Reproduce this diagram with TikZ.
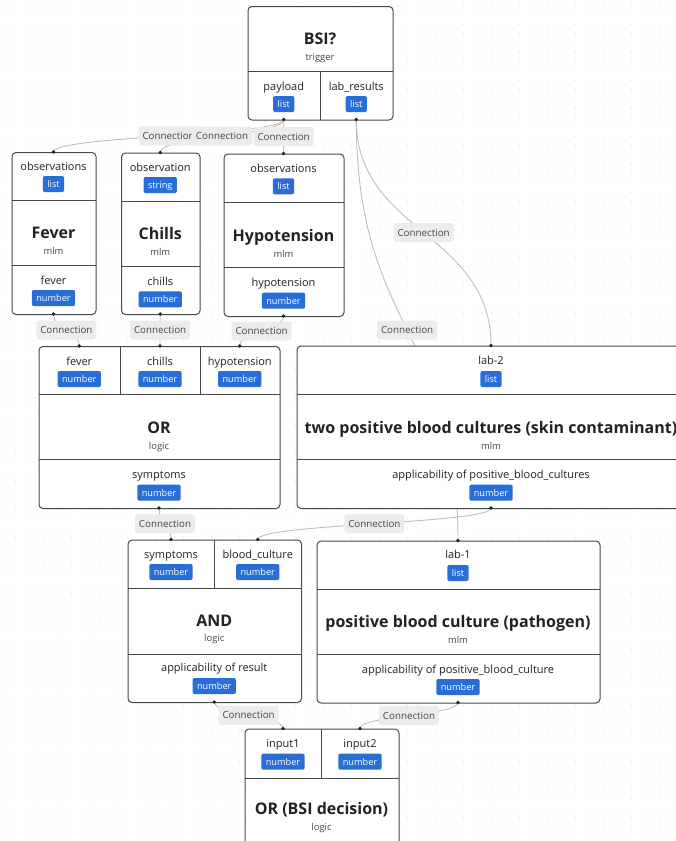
\documentclass[tikz,border=0pt]{standalone}
\usepackage{fontspec}
\setmainfont{Open Sans}
\usetikzlibrary{positioning, calc}
\definecolor{edge}{RGB}{72, 72, 72}
\definecolor{wire}{RGB}{190, 190, 190}
\definecolor{tag}{RGB}{40, 110, 214}
\definecolor{chip}{RGB}{236, 236, 236}
\definecolor{ink}{RGB}{34, 34, 34}
\definecolor{soft}{RGB}{70, 70, 70}
\definecolor{dots}{RGB}{212, 212, 212}
\pgfdeclarelayer{bg}
\pgfdeclarelayer{wires}
\pgfsetlayers{bg,wires,main}

\begin{document}
\begin{tikzpicture}[
    x=1pt, y=-1pt,
    box_style/.style={
        draw=edge,
        fill=white,
        line width=1pt,
        rounded corners=4pt,
        inner sep=0pt,
        anchor=north west
    },
    div_style/.style={draw=edge, line width=0.9pt},
    title_style/.style={text=ink, font=\fontsize{16}{18}\selectfont\bfseries, inner sep=0pt, text height=11.5pt, text depth=0pt},
    sub_style/.style={text=soft, font=\fontsize{9.4}{10}\selectfont, inner sep=0pt, text height=6.5pt, text depth=0pt},
    port_style/.style={text=ink, font=\fontsize{11}{12}\selectfont, inner sep=0pt, text height=8pt, text depth=2.5pt},
    type_style/.style={
        fill=tag,
        text=white,
        font=\fontsize{9.2}{10}\selectfont,
        rounded corners=2pt,
        inner xsep=4.5pt,
        inner ysep=0pt,
        minimum height=16pt,
        text height=6.6pt,
        text depth=0pt
    },
    conn_style/.style={
        fill=chip,
        text=soft,
        font=\fontsize{9.8}{10}\selectfont,
        rounded corners=3pt,
        inner xsep=4pt,
        inner ysep=0pt,
        minimum height=19pt,
        text height=7pt,
        text depth=0pt
    },
    wire_style/.style={
        draw=wire,
        line width=0.9pt,
        to path={.. controls ($(\tikztostart)!0.5!(\tikztostart |- \tikztotarget)$)
            and ($(\tikztotarget)!0.5!(\tikztotarget |- \tikztostart)$) .. (\tikztotarget)}
    },
    grid_style/.style={draw=dots, line width=1pt, line cap=round, dash pattern=on 0pt off 9.33pt}
]

\useasboundingbox (0,0) rectangle (676,841);

\begin{pgfonlayer}{bg}
\fill[white] (0,0) rectangle (676,841);
\foreach \gy in {5.67, 15, ..., 841}
    \draw[grid_style] (6.4,\gy) -- (676,\gy);
\end{pgfonlayer}

% trigger
\node[box_style, minimum width=145pt, minimum height=113.5pt] (bsi) at (247.5,6) {};
\draw[div_style] (247.5,71) -- (392.5,71);
\draw[div_style] (320,71) -- (320,119.5);
\node[title_style] (bsi-t) at (320,39) {BSI?};
\node[sub_style] (bsi-s) at (320,57) {trigger};
\node[port_style] (bsi-p1) at (283.75,87.7) {payload};
\node[type_style] (bsi-b1) at (283.75,104) {list};
\node[port_style] (bsi-p2) at (356.25,87.7) {lab\_results};
\node[type_style] (bsi-b2) at (356.25,104) {list};
\coordinate (bsi-pay) at (283.75,119.5);
\coordinate (bsi-lab) at (356.25,119.5);

% mlm: fever
\node[box_style, minimum width=84pt, minimum height=162pt] (fev) at (11.5,152) {};
\draw[div_style] (11.5,200) -- (95.5,200);
\draw[div_style] (11.5,265.5) -- (95.5,265.5);
\node[port_style] (fev-p1) at (53.5,167.7) {observations};
\node[type_style] (fev-b1) at (53.5,184) {list};
\node[title_style] (fev-t) at (53.5,233) {Fever};
\node[sub_style] (fev-s) at (53.5,251) {mlm};
\node[port_style] (fev-p2) at (53.5,282) {fever};
\node[type_style] (fev-b2) at (53.5,298) {number};
\coordinate (fev-in) at (53.5,152);
\coordinate (fev-out) at (53.5,314);

% mlm: chills
\node[box_style, minimum width=78.5pt, minimum height=161.5pt] (chi) at (121,152.5) {};
\draw[div_style] (121,201) -- (199.5,201);
\draw[div_style] (121,266) -- (199.5,266);
\node[port_style] (chi-p1) at (160.25,168.3) {observation};
\node[type_style] (chi-b1) at (160.25,185) {string};
\node[title_style] (chi-t) at (160.25,234) {Chills};
\node[sub_style] (chi-s) at (160.25,252.7) {mlm};
\node[port_style] (chi-p2) at (160.25,282.7) {chills};
\node[type_style] (chi-b2) at (160.25,299.3) {number};
\coordinate (chi-in) at (160.25,152.5);
\coordinate (chi-out) at (160.25,314);

% mlm: hypotension
\node[box_style, minimum width=120pt, minimum height=162.5pt] (hyp) at (223.5,153.5) {};
\draw[div_style] (223.5,202) -- (343.5,202);
\draw[div_style] (223.5,267) -- (343.5,267);
\node[port_style] (hyp-p1) at (283.5,170) {observations};
\node[type_style] (hyp-b1) at (283.5,186.3) {list};
\node[title_style] (hyp-t) at (283.5,235.7) {Hypotension};
\node[sub_style] (hyp-s) at (283.5,254) {mlm};
\node[port_style] (hyp-p2) at (283.5,284) {hypotension};
\node[type_style] (hyp-b2) at (283.5,300.7) {number};
\coordinate (hyp-in) at (283.5,153.5);
\coordinate (hyp-out) at (283.5,316);

% logic: OR
\node[box_style, minimum width=241pt, minimum height=162pt] (or) at (38.5,346) {};
\draw[div_style] (38.5,394) -- (279.5,394);
\draw[div_style] (38.5,459.5) -- (279.5,459.5);
\draw[div_style] (120,346) -- (120,394);
\draw[div_style] (200,346) -- (200,394);
\node[port_style] (or-p1) at (79.25,362.3) {fever};
\node[type_style] (or-b1) at (79.25,379) {number};
\node[port_style] (or-p2) at (160,362.3) {chills};
\node[type_style] (or-b2) at (160,379) {number};
\node[port_style] (or-p3) at (239.75,362.3) {hypotension};
\node[type_style] (or-b3) at (239.75,379) {number};
\node[title_style] (or-t) at (159,427.3) {OR};
\node[sub_style] (or-s) at (159,446) {logic};
\node[port_style] (or-p4) at (159,476) {symptoms};
\node[type_style] (or-b4) at (159,492.7) {number};
\coordinate (or-fev) at (79.25,346);
\coordinate (or-chi) at (160,346);
\coordinate (or-hyp) at (239.75,346);
\coordinate (or-out) at (159,508);

% mlm: two positive blood cultures
\node[box_style, minimum width=389pt, minimum height=162.5pt] (lab2) at (296.5,345.5) {};
\draw[div_style] (296.5,394) -- (685.5,394);
\draw[div_style] (296.5,459.5) -- (685.5,459.5);
\node[port_style] (lab2-p1) at (491,361.7) {lab-2};
\node[type_style] (lab2-b1) at (491,379) {list};
\node[title_style] (lab2-t) at (491,427.3) {two positive blood cultures (skin contaminant)};
\node[sub_style] (lab2-s) at (491,446) {mlm};
\node[port_style] (lab2-p2) at (491,475.7) {applicability of positive\_blood\_cultures};
\node[type_style] (lab2-b2) at (491,492.7) {number};
\coordinate (lab2-in) at (491,345.5);
\coordinate (lab2-out) at (491,508);

% logic: AND
\node[box_style, minimum width=173.5pt, minimum height=162.5pt] (and) at (127.5,539.5) {};
\draw[div_style] (127.5,588) -- (301,588);
\draw[div_style] (127.5,654) -- (301,654);
\draw[div_style] (214.5,539.5) -- (214.5,588);
\node[port_style] (and-p1) at (171,555.3) {symptoms};
\node[type_style] (and-b1) at (171,572) {number};
\node[port_style] (and-p2) at (257.75,555.3) {blood\_culture};
\node[type_style] (and-b2) at (257.75,572) {number};
\node[title_style] (and-t) at (214.25,620.7) {AND};
\node[sub_style] (and-s) at (214.25,638.7) {logic};
\node[port_style] (and-p3) at (214.25,669) {applicability of result};
\node[type_style] (and-b3) at (214.25,686) {number};
\coordinate (and-sym) at (171,539.5);
\coordinate (and-bc) at (257.75,539.5);
\coordinate (and-out) at (214.25,702);

% mlm: positive blood culture
\node[box_style, minimum width=283pt, minimum height=162pt] (lab1) at (316.5,540.5) {};
\draw[div_style] (316.5,589) -- (599.5,589);
\draw[div_style] (316.5,654) -- (599.5,654);
\node[port_style] (lab1-p1) at (458,556) {lab-1};
\node[type_style] (lab1-b1) at (458,573) {list};
\node[title_style] (lab1-t) at (458,622) {positive blood culture (pathogen)};
\node[sub_style] (lab1-s) at (458,640) {mlm};
\node[port_style] (lab1-p2) at (458,670.3) {applicability of positive\_blood\_culture};
\node[type_style] (lab1-b2) at (458,687) {number};
\coordinate (lab1-in) at (458,540.5);
\coordinate (lab1-out) at (458,702.5);

% logic: OR (BSI decision)
\node[box_style, minimum width=154pt, minimum height=130pt] (dec) at (244.5,728.5) {};
\draw[div_style] (244.5,778) -- (398.5,778);
\draw[div_style] (321.5,728.5) -- (321.5,778);
\node[port_style] (dec-p1) at (283,744.3) {input1};
\node[type_style] (dec-b1) at (283,761.7) {number};
\node[port_style] (dec-p2) at (360,744.3) {input2};
\node[type_style] (dec-b2) at (360,761.7) {number};
\node[title_style] (dec-t) at (321.5,809) {OR (BSI decision)};
\node[sub_style] (dec-s) at (321.5,827.7) {logic};
\coordinate (dec-in1) at (283,728.5);
\coordinate (dec-in2) at (360,728.5);

% connections
\begin{pgfonlayer}{wires}
\draw[wire_style] (bsi-pay) to (fev-in);
\draw[wire_style] (bsi-pay) to (chi-in);
\draw[wire_style] (bsi-pay) to (hyp-in);
\draw[wire_style] (bsi-lab) to (lab2-in);
\draw[wire_style] (bsi-lab) to (lab1-in);
\draw[wire_style] (fev-out) to (or-fev);
\draw[wire_style] (chi-out) to (or-chi);
\draw[wire_style] (hyp-out) to (or-hyp);
\draw[wire_style] (or-out) to (and-sym);
\draw[wire_style] (lab2-out) to (and-bc);
\draw[wire_style] (and-out) to (dec-in1);
\draw[wire_style] (lab1-out) to (dec-in2);
\end{pgfonlayer}

\node[conn_style] (c1) at ($(bsi-pay)!0.5!(fev-in)$) {Connection};
\node[conn_style] (c2) at ($(bsi-pay)!0.5!(chi-in)$) {Connection};
\node[conn_style] (c3) at ($(bsi-pay)!0.5!(hyp-in)$) {Connection};
\node[conn_style] (c4) at ($(bsi-lab)!0.5!(lab2-in)$) {Connection};
\node[conn_style] (c5) at ($(bsi-lab)!0.5!(lab1-in)$) {Connection};
\node[conn_style] (c6) at ($(fev-out)!0.5!(or-fev)$) {Connection};
\node[conn_style] (c7) at ($(chi-out)!0.5!(or-chi)$) {Connection};
\node[conn_style] (c8) at ($(hyp-out)!0.5!(or-hyp)$) {Connection};
\node[conn_style] (c9) at ($(or-out)!0.5!(and-sym)$) {Connection};
\node[conn_style] (c10) at ($(lab2-out)!0.5!(and-bc)$) {Connection};
\node[conn_style] (c11) at ($(and-out)!0.5!(dec-in1)$) {Connection};
\node[conn_style] (c12) at ($(lab1-out)!0.5!(dec-in2)$) {Connection};

\foreach \pt in {bsi-pay, bsi-lab, fev-in, fev-out, chi-in, chi-out, hyp-in, hyp-out,
    or-fev, or-chi, or-hyp, or-out, lab2-in, lab2-out, and-sym, and-bc, and-out,
    lab1-in, lab1-out, dec-in1, dec-in2}
    \fill[ink] (\pt) circle (1.8pt);

\end{tikzpicture}
\end{document}
